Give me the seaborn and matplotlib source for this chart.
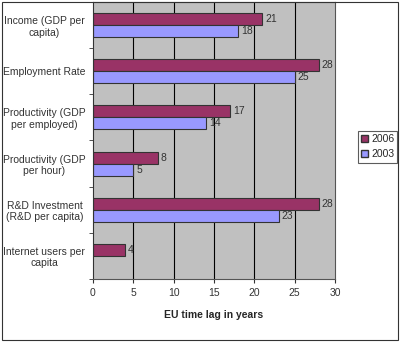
import matplotlib
matplotlib.use("Agg")
import matplotlib.pyplot as plt
import seaborn as sns
import pandas as pd
import numpy as np
from matplotlib.patches import Rectangle, Patch

categories = ["Income (GDP per\ncapita)", "Employment Rate", "Productivity (GDP\nper employed)",
              "Productivity (GDP\nper hour)", "R&D Investment\n(R&D per capita)", "Internet users per\ncapita"]
values_2006 = [21, 28, 17, 8, 28, 4]
values_2003 = [18, 25, 14, 5, 23, np.nan]
series = ["2006", "2003"]
colors = {"2006": "#993366", "2003": "#9999FF"}

rows = []
for c, a, b in zip(categories, values_2006, values_2003):
    rows.append({"cat": c, "year": "2006", "val": a})
    rows.append({"cat": c, "year": "2003", "val": b})
df = pd.DataFrame(rows)

sns.set_style("white")
plt.rcParams['font.family'] = ['Liberation Sans', 'DejaVu Sans']

fig = plt.figure(figsize=(4.0, 3.43), dpi=100)
ax = fig.add_axes([0.2325, 0.187, 0.605, 0.807])
sns.barplot(data=df, y="cat", x="val", hue="year", hue_order=series, order=categories,
            palette=colors, orient="h", width=0.52, ax=ax, edgecolor="#333333", linewidth=0.8,
            legend=False, errorbar=None, saturation=1)
ax.set_facecolor("#C0C0C0")
ax.set_xlim(0, 30)
ax.set_ylim(5.5, -0.5)
ax.set_xticks(range(0, 31, 5))
ax.tick_params(axis="x", labelsize=7.5, colors="#333333", length=3, direction="out", bottom=True)
for x in range(5, 30, 5):
    ax.axvline(x, color="black", lw=0.8, zorder=0.5)
ax.set_yticks(range(len(categories)))
ax.set_yticklabels(categories, fontsize=7.5, color="#333333", ha="center")
ax.tick_params(axis="y", length=0, pad=35)
ax.set_yticks(np.arange(-0.5, 6.0, 1.0), minor=True)
ax.tick_params(axis="y", which="minor", length=3, left=True, color="#333333")
ax.set_ylabel("")
ax.set_xlabel("EU time lag in years", fontsize=7.5, fontweight="bold", labelpad=9)
for s in ax.spines.values():
    s.set_color("#555555")
    s.set_linewidth(0.8)
ax.spines["left"].set_color("#333333")

for cont in ax.containers:
    labels = ["" if np.isnan(v) else f"{v:.0f}" for v in cont.datavalues]
    ax.bar_label(cont, labels=labels, padding=2, fontsize=7.5, color="#333333")

handles = [Patch(facecolor=colors[s], edgecolor="#333333", label=s) for s in series]
leg = fig.legend(handles=handles, loc="center", bbox_to_anchor=(0.944, 0.572), fontsize=7.5,
                 frameon=True, fancybox=False, edgecolor="#333333", handlelength=0.7, handleheight=0.7,
                 handletextpad=0.3, borderpad=0.3, labelspacing=0.5, borderaxespad=0)
leg.get_frame().set_linewidth(0.8)

fig.patches.append(Rectangle((0.006, 0.009), 0.988, 0.985, transform=fig.transFigure,
                             fill=False, edgecolor="#333333", linewidth=0.8))
fig.savefig("out.png", dpi=100)
